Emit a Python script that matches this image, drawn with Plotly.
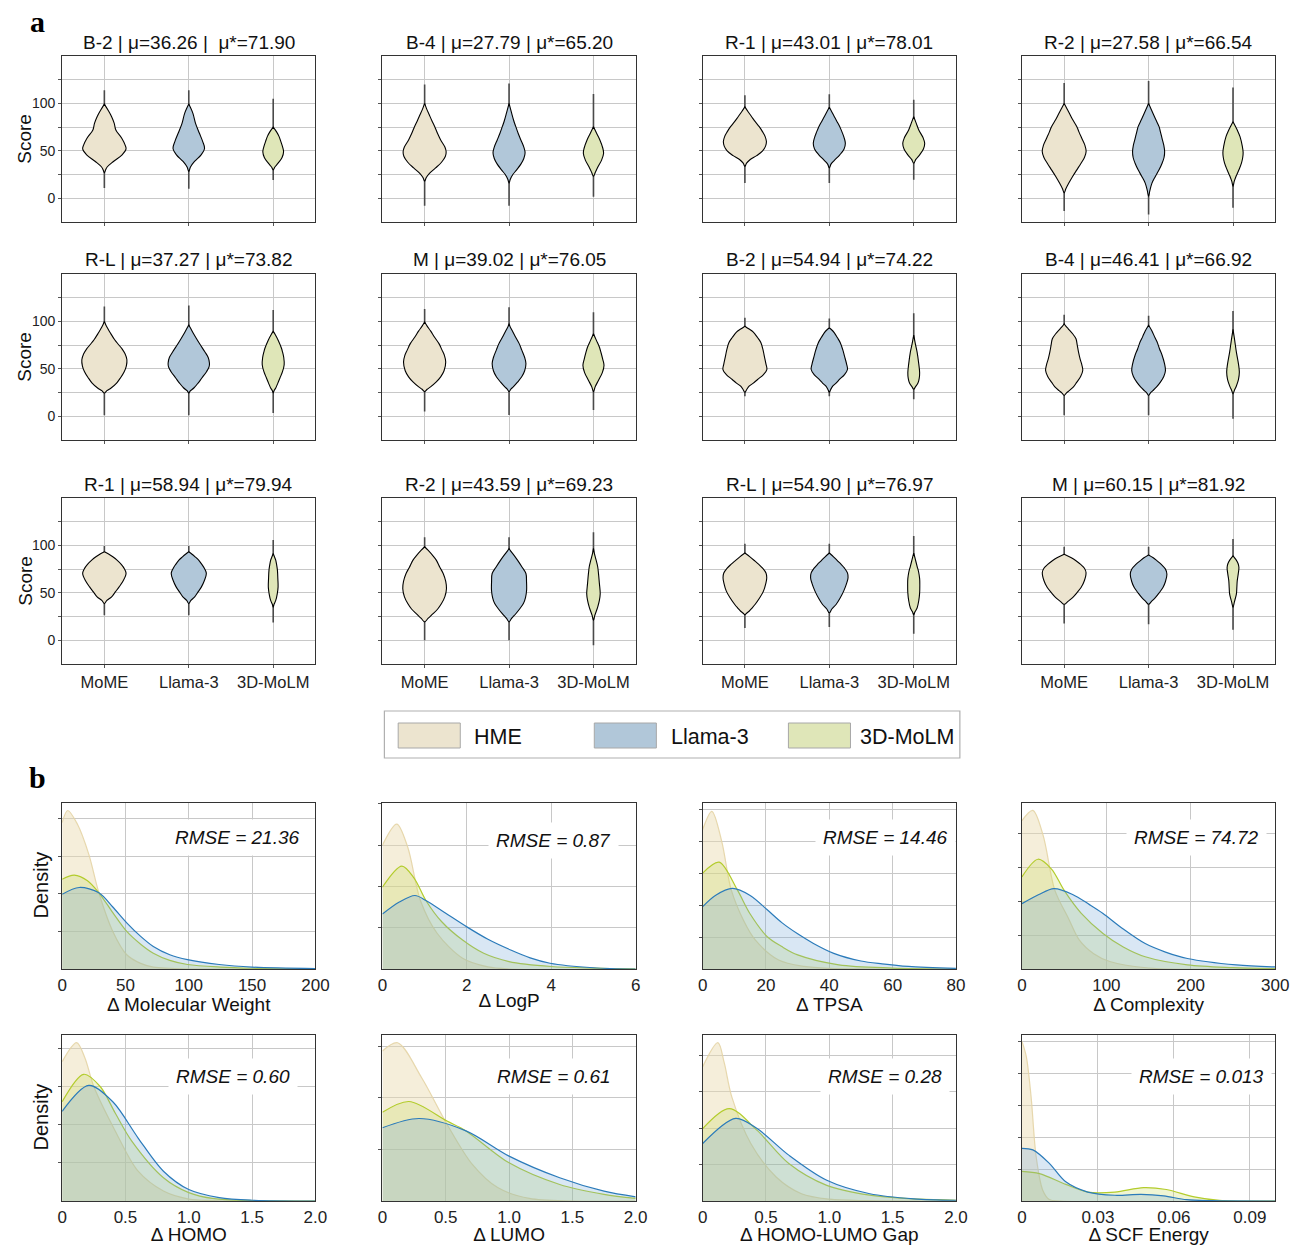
import plotly.graph_objects as go

W, H = 1304, 1245

# ---------------- data: panel a (violin profiles) ----------------
CATEGORIES = ["MoME", "Llama-3", "3D-MoLM"]
LEGEND_NAMES = ["HME", "Llama-3", "3D-MoLM"]
VIOLIN_TITLES = [
    "B-2 | μ=36.26 |  μ*=71.90", "B-4 | μ=27.79 | μ*=65.20", "R-1 | μ=43.01 | μ*=78.01", "R-2 | μ=27.58 | μ*=66.54",
    "R-L | μ=37.27 | μ*=73.82", "M | μ=39.02 | μ*=76.05", "B-2 | μ=54.94 | μ*=74.22", "B-4 | μ=46.41 | μ*=66.92",
    "R-1 | μ=58.94 | μ*=79.94", "R-2 | μ=43.59 | μ*=69.23", "R-L | μ=54.90 | μ*=76.97", "M | μ=60.15 | μ*=81.92",
]
SCORE_TICKS = [0, 25, 50, 75, 100, 125]
SCORE_TICK_TEXT = ["0", "", "50", "", "100", ""]

# each violin: list of (score, half-width) knots, bottom -> top  (MoME, Llama-3, 3D-MoLM)
V01 = [[(27, 0), (30, .015), (33, .033), (38.8, .107), (45.8, .21), (52, .257), (56.3, .245), (63.3, .206), (72, .136), (79, .117), (86, .086), (93, .043), (99.3, 0)],
       [(28.3, 0), (33, .02), (38.8, .068), (45.8, .146), (52.8, .187), (59.8, .165), (68.5, .126), (79, .08), (89.5, .049), (99.3, 0)],
       [(30, 0), (33, .02), (37, .058), (43, .105), (49, .123), (54, .112), (60, .09), (65, .07), (70, .04), (75, 0)]]
V02 = [[(18, 0), (22, .02), (26.6, .06), (32, .13), (38, .2), (44, .245), (49, .255), (54, .24), (61.5, .19), (68, .155), (75.5, .12), (82, .085), (88, .055), (94, .025), (100, 0)],
       [(16, 0), (20, .015), (25, .045), (30, .09), (36, .14), (42, .175), (48, .19), (54, .175), (61.5, .14), (68, .11), (75.5, .08), (82, .055), (90, .03), (100, 0)],
       [(23, 0), (27, .02), (33.6, .055), (40, .095), (47.5, .12), (53, .11), (61.5, .076), (68, .04), (75.5, 0)]]
V03 = [[(33.6, 0), (37, .02), (40.6, .06), (45, .14), (50, .21), (55, .245), (59.8, .255), (65, .24), (70, .21), (75.5, .17), (81, .12), (86, .08), (91, .04), (96.4, 0)],
       [(32, 0), (36, .02), (40, .06), (45.8, .124), (52, .175), (58, .19), (64, .175), (70, .15), (75.5, .124), (81, .09), (86, .06), (91, .03), (96, 0)],
       [(37, 0), (41, .025), (45.8, .07), (52, .115), (58, .13), (64, .11), (72, .06), (79, .03), (86, 0)]]
V04 = [[(5.7, 0), (10, .02), (16, .055), (23, .1), (30, .15), (37, .2), (43, .24), (49.3, .26), (56, .245), (63, .21), (70, .175), (75.5, .15), (83, .1), (90, .06), (95, .03), (100, 0)],
       [(2, 0), (8, .015), (16, .04), (23, .08), (30, .124), (37, .16), (43, .183), (49.3, .19), (56, .18), (63, .16), (70, .14), (75.5, .124), (83, .085), (90, .05), (95, .025), (100, 0)],
       [(12.6, 0), (18, .015), (24, .04), (30, .07), (37, .1), (43, .115), (48.3, .12), (55, .11), (65, .083), (72, .05), (80.7, 0)]]
V05 = [[(24.6, 0), (27, .03), (29.8, .08), (35, .145), (40.4, .19), (47, .235), (53, .26), (59.6, .267), (66, .245), (71, .21), (75.4, .17), (81, .12), (88, .07), (94, .03), (100, 0)],
       [(24.6, 0), (27, .02), (29.8, .06), (35, .11), (40.4, .155), (47, .21), (52, .24), (56, .245), (62, .23), (68, .19), (75.4, .136), (82, .09), (88, .05), (93, .02), (96.5, 0)],
       [(24.6, 0), (27, .01), (29.8, .03), (35, .055), (40.4, .08), (47, .11), (54.4, .13), (62, .125), (68, .11), (72, .097), (80, .06), (86, .025), (89.5, 0)]]
V06 = [[(26, 0), (28.5, .03), (31, .07), (36, .135), (41.6, .19), (48, .23), (57.3, .25), (64, .235), (70, .205), (76.6, .17), (83, .12), (90, .07), (95, .03), (99.3, 0)],
       [(26, 0), (28.5, .02), (31, .05), (36, .1), (41.6, .15), (48, .185), (55.6, .2), (62, .185), (70, .15), (76.6, .12), (83, .08), (90, .04), (94, .015), (97.6, 0)],
       [(26, 0), (31, .02), (38, .06), (46, .105), (53.8, .125), (60, .11), (67, .09), (73, .07), (80, .035), (87, 0)]]
V07 = [[(25.3, 0), (28, .02), (31.7, .05), (35, .1), (38.8, .15), (44, .22), (49.3, .26), (55, .25), (63.4, .23), (70, .215), (77.6, .19), (83, .15), (88.7, .1), (92, .05), (95, 0)],
       [(25.3, 0), (28, .015), (31.7, .04), (35, .08), (38.8, .12), (44, .18), (49.3, .215), (55, .205), (63.4, .18), (70, .16), (77.6, .13), (83, .095), (88, .06), (91, .03), (93, 0)],
       [(28.5, 0), (31, .02), (35, .05), (40, .065), (46, .07), (55, .06), (67.6, .04), (76, .02), (85.5, 0)]]
V08 = [[(22, 0), (24.5, .025), (27, .06), (31, .11), (36, .15), (42, .195), (48.3, .22), (54, .21), (60, .19), (67.6, .17), (75, .155), (81.7, .14), (87, .1), (92, .05), (95, .02), (97.6, 0)],
       [(22, 0), (24.5, .02), (27, .05), (31, .095), (36, .14), (42, .18), (48.3, .2), (55, .19), (64.4, .16), (71, .13), (78.5, .1), (84, .07), (90, .04), (96, 0)],
       [(23.6, 0), (27, .015), (32, .04), (39, .065), (46.6, .075), (55, .065), (67.6, .04), (80, .02), (91.7, 0)]]
V09 = [[(38.7, 0), (42, .03), (45.8, .086), (51, .13), (56.3, .175), (63, .225), (70.4, .257), (75, .24), (80, .2), (84.5, .15), (88, .1), (91, .05), (93.3, 0)],
       [(38.7, 0), (42, .025), (45.8, .07), (51, .11), (56.3, .15), (63, .185), (70.4, .208), (75, .19), (80, .155), (84.5, .117), (88, .075), (91, .035), (93.3, 0)],
       [(35, 0), (38, .01), (42, .03), (49, .048), (56.3, .058), (65, .055), (74, .05), (80, .04), (84.5, .03), (88, .015), (91.5, 0)]]
V10 = [[(19.4, 0), (23, .04), (28, .1), (33, .155), (38.7, .2), (46, .24), (54.6, .259), (62, .25), (70.4, .22), (77, .18), (84.5, .138), (90, .09), (95, .04), (98.6, 0)],
       [(19.4, 0), (23, .03), (28, .08), (33, .125), (38.7, .17), (45, .195), (52.8, .208), (62, .207), (70.4, .2), (77, .155), (84.5, .1), (90, .055), (94, .02), (96.8, 0)],
       [(21, 0), (26, .015), (35, .05), (42, .07), (49, .08), (60, .07), (70, .06), (77.5, .05), (85, .03), (92, .01), (96.8, 0)]]
V11 = [[(27, 0), (28.5, .02), (30.6, .05), (34, .085), (37.7, .12), (44, .17), (51.8, .22), (60, .248), (66, .259), (71, .25), (76, .21), (80, .165), (83.5, .12), (88, .06), (92, 0)],
       [(29, 0), (33, .03), (37.7, .08), (44, .125), (51.8, .17), (60, .205), (66, .222), (71, .215), (76, .18), (80, .14), (83.5, .1), (88, .05), (92, 0)],
       [(27, 0), (30, .015), (34, .04), (42, .06), (50, .07), (58, .072), (65, .07), (72, .058), (78, .04), (85, .02), (92, 0)]]
V12 = [[(38, 0), (41, .045), (45, .1), (50, .15), (55.6, .2), (63, .24), (71.5, .259), (76, .24), (80, .195), (83.8, .14), (87, .085), (90.8, 0)],
       [(38, 0), (41, .035), (45, .08), (50, .125), (55.6, .17), (62, .2), (69.7, .217), (75, .2), (80, .15), (83.8, .1), (87, .055), (90, 0)],
       [(34.5, 0), (40, .015), (48.6, .04), (55, .045), (62.7, .05), (70, .062), (76.8, .07), (81, .06), (85, .035), (89, 0)]]
VIOLIN_PROFILES = [V01, V02, V03, V04, V05, V06, V07, V08, V09, V10, V11, V12]

# min / max of each distribution (the thin tails)
VIOLIN_TAILS = [
    [(10.8, 114), (10, 114), (19.4, 105)], [(-8, 120), (-8, 121), (1.5, 110)],
    [(16, 108.7), (16, 109.7), (19.6, 104)], [(-13.5, 121.6), (-17, 123.7), (-10, 116.7)],
    [(1, 115.8), (1, 116.8), (3.5, 112)], [(5, 113), (1.4, 115), (6.6, 109.8)],
    [(21, 103.9), (21, 103), (18, 108.5)], [(1, 107), (1, 106), (-2.5, 111)],
    [(26.4, 99.3), (26.4, 99.3), (18.7, 105.6)], [(0, 108.5), (0, 108.5), (-5.3, 114)],
    [(13, 101.8), (14, 101.8), (7, 110)], [(17.6, 98.6), (17, 98.6), (11, 106.7)],
]

# ---------------- data: panel b (density curves) ----------------
# each panel: [HME, Llama-3, 3D-MoLM] as (x list, density list)
D_MW = [([0, 4.4, 12, 21, 29, 40, 51, 62, 72, 85, 100, 200], [3.9, 4.22, 3.86, 3.06, 2.03, 1.0, 0.38, 0.15, 0.05, 0.02, 0, 0]),
        ([0, 13.5, 29, 40, 51, 62, 72, 85, 99, 124, 150, 200], [1.99, 2.17, 2.03, 1.65, 1.23, 0.87, 0.6, 0.38, 0.25, 0.12, 0.05, 0.01]),
        ([0, 9.6, 20, 29, 40, 51, 62, 72, 85, 99, 125, 150, 200], [2.39, 2.5, 2.35, 2.03, 1.5, 1.0, 0.66, 0.42, 0.23, 0.12, 0.05, 0.02, 0])]
D_LOGP = [([0, 0.34, 0.6, 0.9, 1.3, 1.9, 2.5, 3, 6], [3.0, 3.51, 2.95, 1.66, 0.86, 0.26, 0.05, 0, 0]),
          ([0, 0.4, 0.77, 1.03, 1.5, 2, 2.5, 3.04, 3.5, 3.97, 5, 6], [1.33, 1.62, 1.78, 1.66, 1.35, 1.02, 0.72, 0.46, 0.27, 0.14, 0.03, 0]),
          ([0, 0.46, 0.75, 1.03, 1.4, 1.9, 2.4, 3.0, 4, 5, 6], [1.98, 2.49, 2.2, 1.66, 1.15, 0.7, 0.38, 0.18, 0.06, 0.02, 0])]
D_TPSA = [([0, 2.9, 6, 9, 13, 16.6, 24, 32, 40, 80], [4.36, 4.93, 4.0, 2.48, 1.5, 0.91, 0.28, 0.08, 0.02, 0]),
          ([0, 4, 9.4, 15, 20.4, 25, 30, 35, 41.4, 50, 56.7, 65, 80], [1.95, 2.3, 2.52, 2.3, 1.85, 1.45, 1.1, 0.8, 0.49, 0.25, 0.16, 0.08, 0.02]),
          ([0, 5.2, 10.9, 15, 20.4, 25, 30, 43, 60, 80], [3.0, 3.34, 2.48, 1.72, 1.01, 0.7, 0.44, 0.13, 0.03, 0])]
D_CPLX = [([0, 12.9, 25, 39, 55, 68, 85, 104, 150, 300], [4.38, 4.68, 3.95, 2.32, 1.5, 0.85, 0.45, 0.22, 0.03, 0]),
          ([0, 20, 38, 60, 80, 96, 120, 146, 170, 196, 254, 300], [1.93, 2.2, 2.37, 2.2, 1.9, 1.64, 1.18, 0.75, 0.5, 0.31, 0.12, 0.06]),
          ([0, 19, 35, 50, 70, 96, 120, 146, 196, 250, 300], [2.72, 3.24, 2.95, 2.32, 1.65, 1.05, 0.65, 0.36, 0.12, 0.04, 0.01])]
D_HOMO = [([0, 0.114, 0.18, 0.25, 0.42, 0.6, 0.8, 1.0, 1.2, 2.0], [3.65, 4.15, 3.75, 3.0, 1.83, 0.78, 0.26, 0.05, 0.01, 0]),
          ([0, 0.21, 0.4, 0.6, 0.8, 1.0, 1.24, 1.5, 2.0], [2.35, 3.03, 2.6, 1.65, 0.78, 0.3, 0.09, 0.02, 0]),
          ([0, 0.17, 0.3, 0.42, 0.55, 0.8, 1.0, 1.2, 1.5, 2.0], [2.6, 3.32, 3.0, 2.3, 1.57, 0.61, 0.22, 0.06, 0.01, 0])]
D_LUMO = [([0, 0.12, 0.31, 0.51, 0.71, 0.91, 1.16, 1.5, 2.0], [2.91, 3.07, 2.39, 1.49, 0.71, 0.26, 0.05, 0, 0]),
          ([0, 0.29, 0.66, 1.0, 1.4, 1.75, 2.0], [1.42, 1.6, 1.36, 0.87, 0.45, 0.19, 0.08]),
          ([0, 0.21, 0.51, 0.66, 1.0, 1.4, 1.75, 2.0], [1.72, 1.93, 1.55, 1.36, 0.74, 0.32, 0.13, 0.05])]
D_GAP = [([0, 0.12, 0.17, 0.23, 0.38, 0.58, 0.78, 1.0, 1.3, 2.0], [3.69, 4.35, 3.8, 2.86, 1.58, 0.66, 0.2, 0.05, 0.01, 0]),
         ([0, 0.26, 0.43, 0.68, 0.98, 1.32, 1.67, 2.0], [1.58, 2.27, 1.99, 1.26, 0.57, 0.2, 0.06, 0.02]),
         ([0, 0.21, 0.43, 0.68, 0.98, 1.32, 1.7, 2.0], [1.99, 2.54, 1.94, 1.03, 0.43, 0.16, 0.05, 0.02])]
D_SCF = [([0, 0.0017, 0.0036, 0.0056, 0.0082, 0.0108, 0.015, 0.1], [5.0, 4.53, 3.27, 1.39, 0.34, 0.05, 0, 0]),
         ([0, 0.0043, 0.0108, 0.0173, 0.026, 0.0367, 0.047, 0.056, 0.065, 0.075, 0.1], [1.65, 1.6, 1.18, 0.6, 0.28, 0.18, 0.21, 0.16, 0.04, 0.01, 0]),
         ([0, 0.0069, 0.0173, 0.026, 0.0367, 0.048, 0.057, 0.068, 0.078, 0.1], [0.93, 0.86, 0.52, 0.28, 0.28, 0.42, 0.36, 0.13, 0.02, 0])]
DENSITIES = [D_MW, D_LOGP, D_TPSA, D_CPLX, D_HOMO, D_LUMO, D_GAP, D_SCF]

DENSITY_TITLES = ["Δ Molecular Weight", "Δ LogP", "Δ TPSA", "Δ Complexity",
                  "Δ HOMO", "Δ LUMO", "Δ HOMO-LUMO Gap", "Δ SCF Energy"]
DENSITY_RMSE = ["RMSE = 21.36", "RMSE = 0.87", "RMSE = 14.46", "RMSE = 74.72",
                "RMSE = 0.60", "RMSE = 0.61", "RMSE = 0.28", "RMSE = 0.013"]
DENSITY_XMAX = [200, 6, 80, 300, 2, 2, 2, 0.1]
DENSITY_XTICKS = [[0, 50, 100, 150, 200], [0, 2, 4, 6], [0, 20, 40, 60, 80], [0, 100, 200, 300],
                  [0, 0.5, 1, 1.5, 2], [0, 0.5, 1, 1.5, 2], [0, 0.5, 1, 1.5, 2], [0, 0.03, 0.06, 0.09]]
DENSITY_XTICKTEXT = [["0", "50", "100", "150", "200"], ["0", "2", "4", "6"], ["0", "20", "40", "60", "80"],
                     ["0", "100", "200", "300"], ["0", "0.5", "1.0", "1.5", "2.0"], ["0", "0.5", "1.0", "1.5", "2.0"],
                     ["0", "0.5", "1.0", "1.5", "2.0"], ["0", "0.03", "0.06", "0.09"]]
DENSITY_YMAX = [4.42, 4.02, 5.19, 4.9, 4.35, 3.22, 4.56, 5.2]

# ---------------- styling ----------------
FONT = "Liberation Sans, Arial, sans-serif"
VIOLIN_FILLS = ["#ece4cf", "#b1c7d9", "#dfe6b8"]
DENS_LINE = ["rgba(228,212,165,0.9)", "#2b7bba", "#b3cc2c"]
DENS_FILL = ["rgba(232,218,172,0.45)", "rgba(120,168,214,0.28)", "rgba(195,215,80,0.25)"]
GRID = "#c8c8c8"
FRAME = "#333333"

COL_LEFT = [58, 383, 708, 1032]
PW = 257
V_TOP = [56, 274, 498]
V_H = 166
D_TOP = [803, 1035]
D_H = 166


def fx(p):
    return p / W


def fy(p):
    return 1 - p / H


fig = go.Figure()
layout = {}
annotations = []
shapes = []


def axis_names(n):
    return ("xaxis" if n == 1 else f"xaxis{n}", "yaxis" if n == 1 else f"yaxis{n}",
            "x" if n == 1 else f"x{n}", "y" if n == 1 else f"y{n}")


# ---------------- panel a: violins ----------------
for i in range(12):
    r, c = divmod(i, 4)
    n = i + 1
    xa, ya, xr, yr = axis_names(n)
    left, top = COL_LEFT[c], V_TOP[r]
    layout[xa] = dict(domain=[fx(left), fx(left + PW)], anchor=yr, range=[-0.5, 2.5],
                      tickvals=[0, 1, 2], ticktext=CATEGORIES if r == 2 else ["", "", ""],
                      showgrid=True, gridcolor=GRID, gridwidth=1, zeroline=False,
                      showline=True, linecolor=FRAME, linewidth=1.2, mirror=True,
                      ticks="outside", ticklen=3, tickcolor="#555",
                      tickfont=dict(size=16.5, color="#222", family=FONT))
    layout[ya] = dict(domain=[fy(top + V_H), fy(top)], anchor=xr, range=[-25, 150],
                      tickvals=SCORE_TICKS, ticktext=SCORE_TICK_TEXT if c == 0 else [""] * 6,
                      showgrid=True, gridcolor=GRID, gridwidth=1.3, zeroline=False,
                      showline=True, linecolor=FRAME, linewidth=1.2, mirror=True,
                      ticks="outside", ticklen=3, tickcolor="#555",
                      tickfont=dict(size=14, color="#222", family=FONT))
    for j in range(3):
        lo, hi = VIOLIN_TAILS[i][j]
        fig.add_trace(go.Scatter(x=[j, j], y=[lo, hi], mode="lines", xaxis=xr, yaxis=yr,
                                 line=dict(color="#4a4a4a", width=1.6), showlegend=False, hoverinfo="skip"))
        prof = VIOLIN_PROFILES[i][j]
        ys = [p[0] for p in prof]
        ws = [p[1] for p in prof]
        px_ = [j + w for w in ws] + [j - w for w in reversed(ws)]
        py_ = ys + list(reversed(ys))
        fig.add_trace(go.Scatter(x=px_, y=py_, mode="lines", fill="toself", fillcolor=VIOLIN_FILLS[j],
                                 xaxis=xr, yaxis=yr, line=dict(color="black", width=1.1, shape="spline", smoothing=1.0),
                                 showlegend=False, hoverinfo="skip"))
    annotations.append(dict(text=VIOLIN_TITLES[i], x=fx(left + PW / 2), y=fy(top - 14), xref="paper", yref="paper",
                            xanchor="center", yanchor="middle", showarrow=False,
                            font=dict(size=19, color="#111", family=FONT)))
    if c == 0:
        annotations.append(dict(text="Score", x=fx(20), y=fy(top + 83), xref="paper", yref="paper", textangle=-90,
                                xanchor="center", yanchor="middle", showarrow=False,
                                font=dict(size=19, color="#111", family=FONT)))

# ---------------- legend (drawn) ----------------
shapes.append(dict(type="rect", xref="paper", yref="paper", x0=fx(385), x1=fx(969), y0=fy(758), y1=fy(711),
                   line=dict(color="#b0b0b0", width=1.2), fillcolor="white"))
for k, (x0, tx) in enumerate([(399, 474), (598, 674), (795, 866)]):
    shapes.append(dict(type="rect", xref="paper", yref="paper", x0=fx(x0), x1=fx(x0 + 63), y0=fy(748), y1=fy(723),
                       line=dict(color="#a8a8a8", width=1), fillcolor=VIOLIN_FILLS[k]))
    annotations.append(dict(text=LEGEND_NAMES[k], x=fx(tx), y=fy(737), xref="paper", yref="paper",
                            xanchor="left", yanchor="middle", showarrow=False,
                            font=dict(size=21.5, color="#111", family=FONT)))

# ---------------- panel b: densities ----------------
RMSE_POS = [(0.693, 0.205), (0.675, 0.225), (0.72, 0.21), (0.69, 0.21),
            (0.673, 0.247), (0.677, 0.247), (0.72, 0.247), (0.71, 0.247)]
for i in range(8):
    r, c = divmod(i, 4)
    n = 13 + i
    xa, ya, xr, yr = axis_names(n)
    left, top = COL_LEFT[c], D_TOP[r]
    ymax = DENSITY_YMAX[i]
    layout[xa] = dict(domain=[fx(left), fx(left + PW)], anchor=yr, range=[0, DENSITY_XMAX[i]],
                      tickvals=DENSITY_XTICKS[i], ticktext=DENSITY_XTICKTEXT[i],
                      showgrid=True, gridcolor=GRID, gridwidth=1.2, zeroline=False,
                      showline=True, linecolor=FRAME, linewidth=1.2, mirror=True, ticks="",
                      tickfont=dict(size=17, color="#222", family=FONT),
                      title=dict(text=DENSITY_TITLES[i], font=dict(size=19, color="#111", family=FONT), standoff=0))
    layout[ya] = dict(domain=[fy(top + D_H), fy(top)], anchor=xr, range=[0, ymax],
                      tickvals=list(range(1, int(ymax) + 1)), showticklabels=False,
                      showgrid=True, gridcolor=GRID, gridwidth=1.3, zeroline=False,
                      showline=True, linecolor=FRAME, linewidth=1.2, mirror=True,
                      ticks="outside", ticklen=3, tickcolor="#555")
    for k in (0, 2, 1):
        xs, ds = DENSITIES[i][k]
        fig.add_trace(go.Scatter(x=xs, y=ds, mode="lines", fill="tozeroy", fillcolor=DENS_FILL[k],
                                 xaxis=xr, yaxis=yr, line=dict(color=DENS_LINE[k], width=1.2, shape="spline", smoothing=0.9),
                                 showlegend=False, hoverinfo="skip"))
    rx, ry = RMSE_POS[i]
    annotations.append(dict(text=f"<i>{DENSITY_RMSE[i]}</i>", x=fx(left + rx * PW), y=fy(top + ry * D_H),
                            xref="paper", yref="paper", xanchor="center", yanchor="middle", showarrow=False,
                            bgcolor="white", borderpad=7,
                            font=dict(size=19, color="#111", family=FONT)))
    if c == 0:
        annotations.append(dict(text="Density", x=fx(37), y=fy(top + 82), xref="paper", yref="paper", textangle=-90,
                                xanchor="center", yanchor="middle", showarrow=False,
                                font=dict(size=20, color="#111", family=FONT)))

# panel letters
annotations.append(dict(text="<b>a</b>", x=fx(33), y=fy(22), xref="paper", yref="paper", showarrow=False,
                        xanchor="center", yanchor="middle", font=dict(size=30, color="black", family="Liberation Serif, Times New Roman, serif")))
annotations.append(dict(text="<b>b</b>", x=fx(33), y=fy(777), xref="paper", yref="paper", showarrow=False,
                        xanchor="center", yanchor="middle", font=dict(size=30, color="black", family="Liberation Serif, Times New Roman, serif")))

fig.update_layout(**layout)
fig.update_layout(width=W, height=H, autosize=False, margin=dict(l=0, r=0, t=0, b=0),
                  paper_bgcolor="white", plot_bgcolor="white", showlegend=False,
                  annotations=annotations, shapes=shapes, font=dict(family=FONT))
fig.write_html("out.html", config={"displayModeBar": False},
               post_script="document.body.style.margin='0px';document.body.style.overflow='hidden';")
